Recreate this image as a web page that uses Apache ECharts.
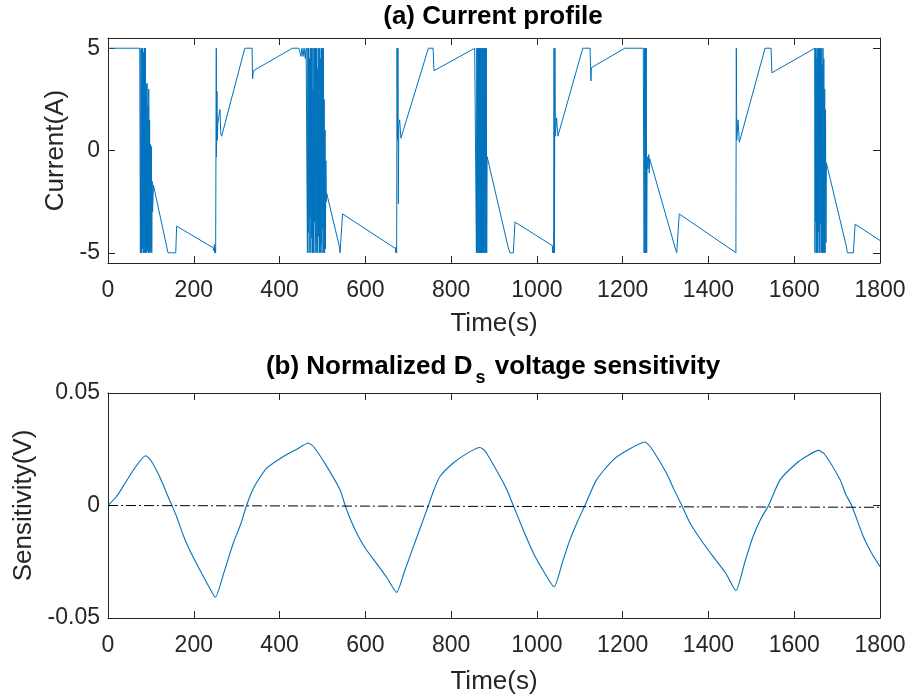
<!DOCTYPE html>
<html>
<head>
<meta charset="utf-8">
<script src="https://cdn.jsdelivr.net/npm/echarts@6/dist/echarts.min.js"></script>
<style>
html,body{margin:0;padding:0;background:#fff;}
#chart{width:910px;height:698px;}
</style>
</head>
<body>
<div id="chart"></div>
<script>
// ---- Data ----
const xTicks = [0, 200, 400, 600, 800, 1000, 1200, 1400, 1600, 1800];
const currentTicks = [-5, 0, 5];
const sensTicks = [-0.05, 0, 0.05];

// (a) Current profile: time (s) and current (A)
const curT = [
  0, 74,
  75, 75.5, 76.5, 77, 78, 79, 80, 81, 82, 83, 84, 85, 86, 87, 88, 89, 90, 91, 92, 93, 94, 95, 96, 97, 98, 99, 100, 101, 102, 103, 104, 106,
  140, 158, 160, 245,
  247, 248, 249, 250, 251,
  252, 252.5, 253, 254, 255, 256, 261, 263, 265, 319, 336, 337, 339, 430,
  445, 450, 452, 455, 457, 460, 462,
  463, 465, 466, 467, 468, 469, 470, 471, 472, 473, 474, 475, 476, 477, 478, 479, 480, 481, 482, 483, 484, 485, 486, 487, 488, 489, 490, 491, 492, 493, 494, 495, 496, 497, 498, 499, 500, 501, 502, 503, 504, 505, 506, 507, 508, 509, 510,
  539, 541, 545, 547, 670.7,
  671, 672, 673,
  674, 675, 676, 677, 678, 680, 683, 747, 758, 760, 855,
  858, 859, 860, 861, 862, 863, 864, 865, 866, 867, 868, 869, 870, 871, 872, 873, 874, 875, 876, 877, 878, 879, 880, 881, 882, 883, 884,
  933, 937, 945, 949, 1036,
  1037, 1038, 1039,
  1040, 1041, 1042, 1043, 1046, 1049, 1107, 1124, 1126, 1127, 1205, 1248,
  1249, 1250, 1251, 1252, 1253, 1254, 1255, 1256, 1257, 1259, 1261, 1262, 1263,
  1322, 1326, 1330, 1332, 1464,
  1465, 1466, 1469, 1472, 1532, 1546, 1548, 1648,
  1648.5, 1649, 1650, 1651, 1652, 1653, 1654, 1655, 1656, 1657, 1658, 1659, 1660, 1661, 1662, 1663, 1664, 1665, 1666, 1667, 1668, 1669, 1670, 1671, 1672, 1673, 1674, 1675, 1677,
  1722, 1724, 1738, 1742, 1800
];
const curA = [
  5, 5,
  5, -5, -5, 5, -5, 5, -4.8, 5, -5, 4.8, -5, 5, -5, 5, -5, 3.2, -5, 3.3, -4.9, 2.2, -5, 3.0, -5, 1.5, -5, 0.3, -4.9, 0.2, -5, -1.5, -3.0, -1.7,
  -5, -5, -3.7, -4.75,
  -4.9, -4.6, -5, -4.8, -5,
  -5, 5, -0.3, 2.9, 0.5, 1.3, 2.0, 0.8, 0.7, 5, 5, 3.5, 3.9, 5,
  5, 4.6, 5, 4.6, 5, 4.5, 5,
  5, -5, 5, -4, 5, -5, 4.5, -3.3, 5, -5, 5, -4.3, 5, -5, 3, -5, 5, -3.5, 5, -5, 5, -4.5, 5, -5, 4, -5, 5, -4.2, 5, -5, 5, -5, 4.5, -4.6, 5, -5, 5, -3.8, 5, -5, 2.5, -5, 1, -4.8, -0.5, -2.5, -2.1,
  -4.65, -5, -5, -3.1, -4.8,
  -5, -4.7, -5,
  5, 0.5, 5, -2.6, 1.2, 1.5, 0.6, 5, 5, 3.9, 5,
  5, -5, 5, -5, 5, -5, 5, -5, 5, -5, 5, -5, 5, -5, 5, -5, 5, -5, 5, -5, 5, -5, 5, -5, 5, -5, -0.3,
  -4.73, -5, -5, -3.5, -4.65,
  -5, -4.7, -5,
  5, -5, 5, 0.7, 1.6, 0.7, 5, 5, 3.4, 4.05, 5, 5,
  5, -5, 5, -5, 5, -5, 5, -5, -0.3, -0.9, -0.2, -1.1, -0.4,
  -4.73, -5, -5, -3.1, -5,
  5, 0.5, 1.5, 0.4, 5, 5, 3.8, 5,
  -5, 5, -3.5, 5, -5, 4.5, -5, 5, -4, 5, -5, 5, -5, 5, -3.6, 5, -5, 4.2, -5, 5, -5, 4.5, -5, 3, -5, 2, -4.5, -0.6, -0.66,
  -4.73, -5, -5, -3.6, -4.4
];

// (b) Normalized Ds voltage sensitivity: time (s) and sensitivity (V)
const sensT = [0, 20, 40, 60, 80, 88, 100, 120, 140, 149, 160, 175, 190, 214, 235, 250, 270, 292, 310, 323, 335, 346, 370, 409, 440, 467, 480, 510, 541, 553, 565, 580, 600, 626, 650, 673, 690, 712, 730, 747, 760, 774, 805, 840, 867, 880, 914, 930, 945, 968, 992, 1015, 1040, 1060, 1077, 1095, 1112, 1139, 1178, 1215, 1252, 1265, 1302, 1320, 1338, 1357, 1385, 1411, 1440, 1464, 1485, 1504, 1522, 1540, 1567, 1606, 1630, 1656, 1670, 1707, 1720, 1734, 1761, 1780, 1800];
const sensV = [0, 0.004, 0.010, 0.016, 0.021, 0.0221, 0.020, 0.013, 0.004, 0, -0.005, -0.013, -0.0197, -0.0286, -0.036, -0.0408, -0.030, -0.0168, -0.008, 0, 0.006, 0.010, 0.0166, 0.0218, 0.025, 0.0278, 0.026, 0.0174, 0.007, 0, -0.006, -0.0123, -0.019, -0.0257, -0.032, -0.0386, -0.030, -0.0183, -0.009, 0, 0.007, 0.0129, 0.0189, 0.0235, 0.0258, 0.024, 0.0129, 0.007, 0, -0.0108, -0.0212, -0.029, -0.0361, -0.025, -0.0153, -0.007, 0, 0.0114, 0.0203, 0.025, 0.0282, 0.026, 0.0144, 0.007, 0, -0.0078, -0.016, -0.0227, -0.030, -0.0378, -0.025, -0.0138, -0.006, 0, 0.0114, 0.0189, 0.022, 0.0245, 0.023, 0.0114, 0.005, 0, -0.0138, -0.021, -0.0272];

// reference (zero) line
const refT = [0, 1800];
const refV = [0, -0.0008];

// ---- Chart ----
const zip = (a, b) => a.map((v, i) => [v, b[i]]);
const FONT = '"Liberation Sans", Arial, Helvetica, sans-serif';
const AX = '#262626';
const chart = echarts.init(document.getElementById('chart'), null, {renderer: 'canvas'});

function xAx(gi, show, gap) {
  return {
    type: 'value', gridIndex: gi, min: 0, max: 1800, interval: 200,
    position: show ? 'bottom' : 'top',
    name: show ? 'Time(s)' : '', nameLocation: 'middle', nameGap: gap,
    nameTextStyle: {color: AX, fontFamily: FONT, fontSize: 26},
    axisLine: {show: true, onZero: false, lineStyle: {color: AX, width: 1}},
    axisTick: {show: true, inside: true, length: 7, customValues: xTicks, lineStyle: {color: AX}},
    axisLabel: {show: show, customValues: xTicks, color: AX, fontFamily: FONT, fontSize: 23, margin: 16,
      formatter: v => String(v)},
    splitLine: {show: false}
  };
}
function yAx(gi, show, min, max, ticks, name, gap, fmt) {
  return {
    type: 'value', gridIndex: gi, min: min, max: max,
    position: show ? 'left' : 'right',
    name: show ? name : '', nameLocation: 'middle', nameGap: gap, nameRotate: 90,
    nameTextStyle: {color: AX, fontFamily: FONT, fontSize: 26},
    axisLine: {show: true, onZero: false, lineStyle: {color: AX, width: 1}},
    axisTick: {show: true, inside: true, length: 7, customValues: ticks, lineStyle: {color: AX}},
    axisLabel: {show: show, customValues: ticks, color: AX, fontFamily: FONT, fontSize: 23, margin: 8, formatter: fmt},
    splitLine: {show: false}
  };
}

chart.setOption({
  animation: false,
  backgroundColor: '#fff',
  grid: [
    {left: 108, right: 30, top: 38, height: 225},
    {left: 108, right: 30, top: 393, height: 225}
  ],
  xAxis: [xAx(0, true, 48), xAx(0, false, 0), xAx(1, true, 51), xAx(1, false, 0)],
  yAxis: [
    yAx(0, true, -5.5, 5.5, currentTicks, 'Current(A)', 37, v => String(v)),
    yAx(0, false, -5.5, 5.5, currentTicks, '', 0),
    yAx(1, true, -0.05, 0.05, sensTicks, 'Sensitivity(V)', 66, v => String(v)),
    yAx(1, false, -0.05, 0.05, sensTicks, '', 0)
  ],
  graphic: [
    {type: 'text', x: 493, y: 17, style: {text: '(a) Current profile', fill: '#000', font: 'bold 26px ' + FONT, textAlign: 'center', textVerticalAlign: 'middle'}},
    {type: 'text', x: 493, y: 367, style: {
      text: '{b|(b) Normalized D}{s|s}{b| voltage sensitivity}',
      rich: {
        b: {fill: '#000', fontWeight: 'bold', fontSize: 26, fontFamily: FONT},
        s: {fill: '#000', fontWeight: 'bold', fontSize: 18, fontFamily: FONT, padding: [22, 2, 0, 3]}
      },
      textAlign: 'center', textVerticalAlign: 'middle'}}
  ],
  series: [
    {type: 'line', xAxisIndex: 0, yAxisIndex: 0, data: zip(curT, curA), showSymbol: false, symbol: 'none',
     lineStyle: {color: '#0072BD', width: 1}},
    {type: 'line', xAxisIndex: 2, yAxisIndex: 2, data: zip(sensT, sensV), showSymbol: false, symbol: 'none', smooth: 0.2,
     lineStyle: {color: '#0072BD', width: 1.1}},
    {type: 'line', xAxisIndex: 2, yAxisIndex: 2, data: zip(refT, refV), showSymbol: false, symbol: 'none',
     lineStyle: {color: '#000', width: 1, type: [10, 3, 2, 3]}}
  ]
});
</script>
</body>
</html>
